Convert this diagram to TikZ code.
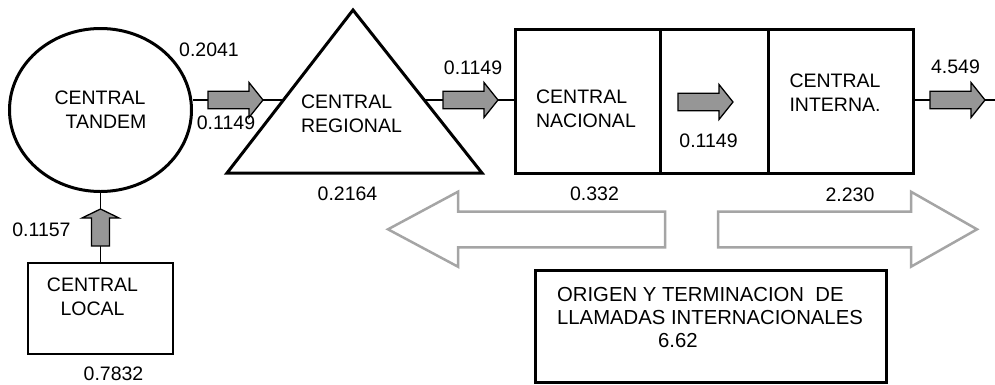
\documentclass[tikz,border=0pt]{standalone}
\usepackage{fontspec}
\setmainfont{Liberation Sans}
\usetikzlibrary{shapes.geometric}
\pgfdeclarelayer{background}
\pgfsetlayers{background,main}
\definecolor{arrowfill}{RGB}{150,150,150}
\definecolor{hollowgray}{RGB}{165,165,165}
\tikzset{
  lbl/.style={inner sep=0pt, font=\fontsize{19.5}{24}\selectfont},
  thickbox/.style={draw, line width=3pt, fill=white, inner sep=0pt},
  conn/.style={line width=1.5pt},
  hollow/.style={draw=hollowgray, line width=2.5pt, line join=miter},
  harrow/.pic={
    \draw[line width=1.3pt, fill=arrowfill, line join=miter]
      (0,-8.75) -- (41,-8.75) -- (41,-17.5) -- (55,0) -- (41,17.5) -- (41,8.75) -- (0,8.75) -- cycle;
    \coordinate (-s) at (0,0);
    \coordinate (-e) at (55,0);
  },
  varrow/.pic={
    \draw[line width=1.3pt, fill=arrowfill, line join=miter]
      (0,-9) -- (28,-9) -- (28,-18.5) -- (37,0) -- (28,18.5) -- (28,9) -- (0,9) -- cycle;
    \coordinate (-s) at (0,0);
    \coordinate (-e) at (37,0);
  }
}
\begin{document}
\begin{tikzpicture}[x=1pt, y=-1pt]
\useasboundingbox (0,0) rectangle (995,384);

% central tandem
\node[thickbox, ellipse, minimum width=182pt, minimum height=163pt,
      font=\fontsize{19.5}{24}\selectfont, align=left] (tandem) at (100.5,110)
      {CENTRAL\\\hspace*{11pt}TANDEM};

% central regional (triangle)
\draw[line width=3pt, fill=white, line join=miter] (353,10) -- (482,173) -- (227,173) -- cycle;
\node[lbl, align=left] (regional) at (351.5,114) {CENTRAL\\REGIONAL};

% nacional / middle / internacional boxes
\node[thickbox, minimum width=145pt, minimum height=144pt] (nacbox) at (587.5,101) {};
\node[thickbox, minimum width=108pt, minimum height=144pt] (midbox) at (714,101) {};
\node[thickbox, minimum width=145pt, minimum height=144pt] (intbox) at (840.5,101) {};
\node[lbl, align=left] (nactext) at (586,108.5) {CENTRAL\\NACIONAL};
\node[lbl, align=left] (inttext) at (835,93) {CENTRAL\\INTERNA.};

% central local
\node[draw, line width=2pt, fill=white, inner sep=0pt, minimum width=145pt, minimum height=91pt]
      (localbox) at (100.5,308.5) {};
\node[lbl, align=center] (localtext) at (92.5,296.5) {CENTRAL\\LOCAL};

% origen box
\node[thickbox, minimum width=351pt, minimum height=112pt] (origen) at (710.5,326) {};
\node[inner sep=0pt, font=\fontsize{20.3}{23}\selectfont, align=left] (origtext) at (710,317.5)
      {ORIGEN Y TERMINACION\ \ DE\\LLAMADAS INTERNACIONALES\\\hspace*{101pt}6.62};

% filled arrows
\pic (a1) at (208,100) {harrow};
\pic (a2) at (443,100) {harrow};
\pic (a3) at (678,102) {harrow};
\pic (a4) at (930,100) {harrow};
\pic[rotate=90] (av) at (100.5,246) {varrow};
\coordinate (out) at (995,100);

% hollow arrows
\draw[hollow] (665,211.7) -- (458,211.7) -- (458,191.7) -- (388,229.3) -- (458,266.7) -- (458,247.3) -- (665,247.3) -- cycle;
\draw[hollow] (718,211.7) -- (911,211.7) -- (911,191.7) -- (977,229.3) -- (911,266.7) -- (911,247.3) -- (718,247.3) -- cycle;

% number labels
\node[lbl] (n2041) at (209,49.5) {0.2041};
\node[lbl] (n1149a) at (226,122.5) {0.1149};
\node[lbl] (n1149b) at (473,68) {0.1149};
\node[lbl] (n2164) at (347.5,193.5) {0.2164};
\node[lbl] (n332) at (594.5,194) {0.332};
\node[lbl] (n1149c) at (708.5,140.5) {0.1149};
\node[lbl] (n2230) at (850,195) {2.230};
\node[lbl] (n4549) at (955.5,67) {4.549};
\node[lbl] (n1157) at (41.5,230) {0.1157};
\node[lbl] (n7832) at (113.5,373.5) {0.7832};

% connectors
\begin{pgfonlayer}{background}
\draw[conn] (a1-s -| tandem.east) -- (a1-s);
\draw[conn] (a1-e) -- (regional.center |- a1-e);
\draw[conn] (regional.center |- a2-s) -- (a2-s);
\draw[conn] (a2-e) -- (a2-e -| nacbox.west);
\draw[conn] (intbox.east |- a4-s) -- (a4-s);
\draw[conn] (a4-e) -- (out);
\draw[conn] (localbox.north) -- (av-s);
\draw[conn] (av-e) -- (tandem.south);
\end{pgfonlayer}
\end{tikzpicture}
\end{document}
